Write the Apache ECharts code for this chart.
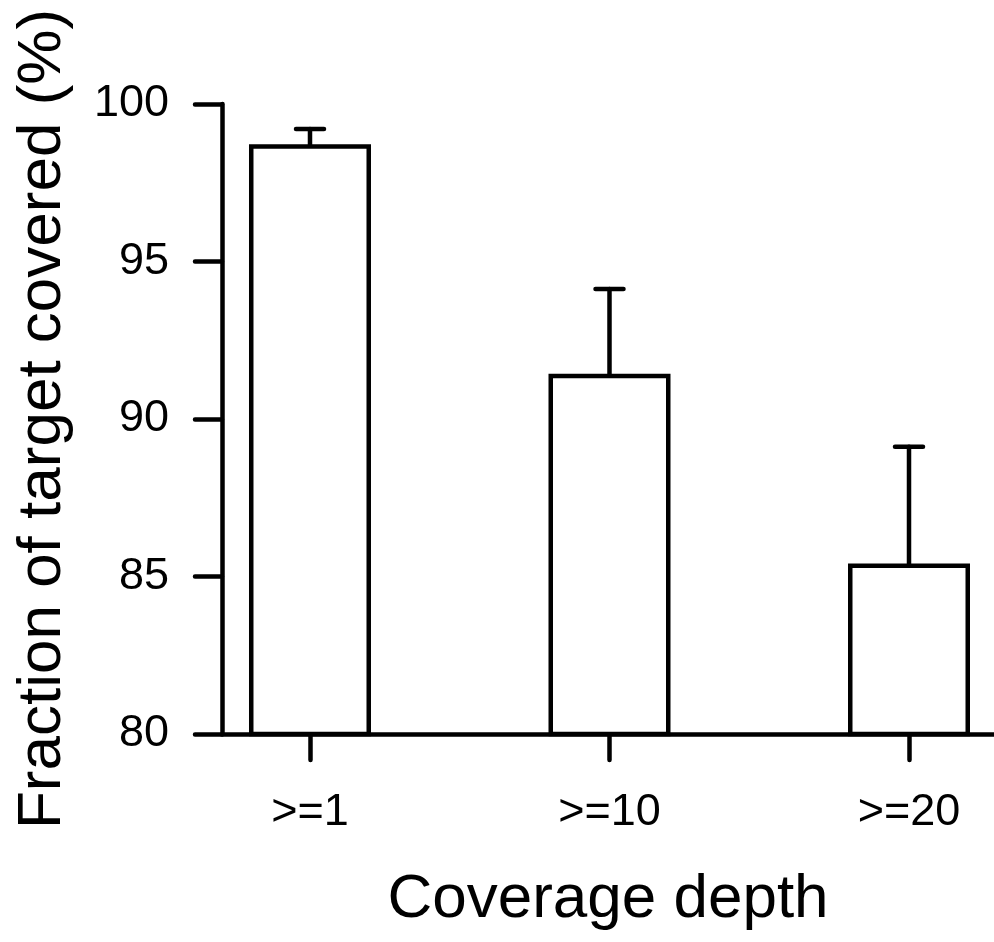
<!DOCTYPE html>
<html>
<head>
<meta charset="utf-8">
<script src="https://cdn.jsdelivr.net/npm/echarts@6/dist/echarts.min.js"></script>
<style>
  html, body { margin: 0; padding: 0; background: #fff; }
  #chart { width: 994px; height: 942px; }
</style>
</head>
<body>
<div id="chart"></div>
<script>
// Coverage thresholds and the measured fraction of target bases covered
const categories = ['>=1', '>=10', '>=20'];
const meanCovered = [98.72, 91.44, 85.41];
const upperError = [99.21, 94.13, 89.12];
const yTicks = [80, 85, 90, 95, 100];

const FONT = '"Liberation Sans", Arial, Helvetica, sans-serif';
const INK = '#000';
const LW = 4.5;

// Category positions on a numeric x scale (1, 2, 3)
const xPos = categories.map((_, i) => i + 1);

const chart = echarts.init(document.getElementById('chart'), null, { renderer: 'canvas' });

chart.setOption({
  animation: false,
  backgroundColor: '#fff',
  grid: { left: 222, right: 0, top: 104, bottom: 208, containLabel: false },
  xAxis: {
    type: 'value',
    min: 0.7062,
    max: 3.2838,
    splitLine: { show: false },
    axisLine: { show: true, onZero: false, lineStyle: { color: INK, width: LW, cap: 'round' } },
    axisTick: {
      show: true, length: 26, inside: false, customValues: xPos,
      lineStyle: { color: INK, width: LW, cap: 'round' }
    },
    axisLabel: {
      show: true, customValues: xPos, margin: 56,
      color: INK, fontFamily: FONT, fontSize: 45,
      formatter: v => categories[Math.round(v) - 1] || ''
    },
    name: 'Coverage depth',
    nameLocation: 'middle',
    nameGap: 135,
    nameTextStyle: { color: INK, fontFamily: FONT, fontSize: 62 }
  },
  yAxis: {
    type: 'value',
    min: yTicks[0],
    max: yTicks[yTicks.length - 1],
    interval: 5,
    splitLine: { show: false },
    axisLine: { show: true, lineStyle: { color: INK, width: LW, cap: 'round' } },
    axisTick: { show: true, length: 27, lineStyle: { color: INK, width: LW, cap: 'round' } },
    axisLabel: { margin: 53, color: INK, fontFamily: FONT, fontSize: 45 },
    name: 'Fraction of target covered (%)',
    nameLocation: 'middle',
    nameGap: 148,
    nameTextStyle: { color: INK, fontFamily: FONT, fontSize: 62 }
  },
  series: [
    {
      type: 'bar',
      data: xPos.map((x, i) => [x, meanCovered[i]]),
      barWidth: 122,
      itemStyle: { color: '#fff', borderColor: INK, borderWidth: LW },
      z: 2
    },
    {
      // upper error bars: stem from bar top to cap
      type: 'custom',
      data: xPos.map((x, i) => [x, meanCovered[i], upperError[i]]),
      z: 3,
      renderItem: (params, api) => {
        const base = api.coord([api.value(0), api.value(1)]);
        const top = api.coord([api.value(0), api.value(2)]);
        const half = 14;
        const style = { stroke: INK, lineWidth: LW, lineCap: 'round' };
        return {
          type: 'group',
          children: [
            { type: 'line', shape: { x1: base[0], y1: base[1], x2: top[0], y2: top[1] }, style },
            { type: 'line', shape: { x1: top[0] - half, y1: top[1], x2: top[0] + half, y2: top[1] }, style }
          ]
        };
      }
    }
  ]
});
</script>
</body>
</html>
